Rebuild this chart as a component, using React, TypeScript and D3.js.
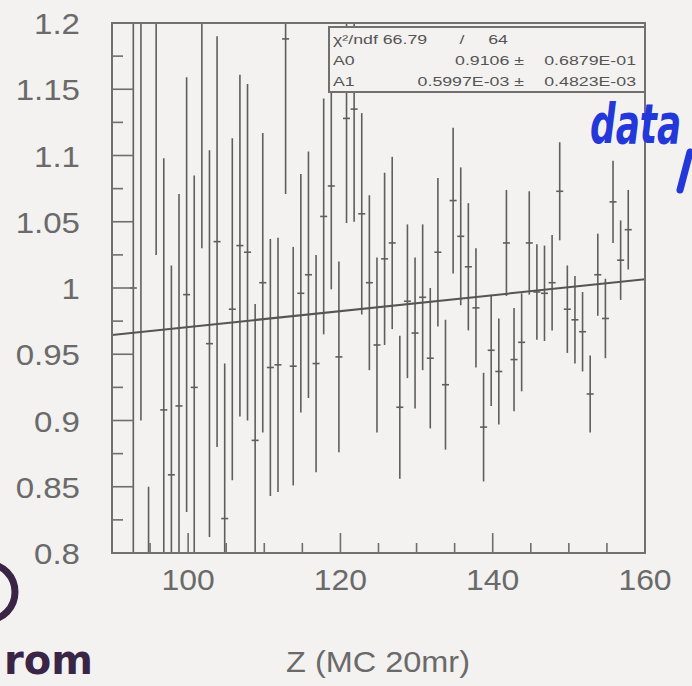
import * as d3 from "d3"

// bin centres (Z), ratio values and their errors
const zBins = [
  92.8, 93.8, 94.8, 95.8, 96.8, 97.8, 98.8, 99.8, 100.8, 101.8, 102.8, 103.8, 104.8, 105.8, 106.8, 107.8, 108.8,
  109.8, 110.8, 111.8, 112.8, 113.8, 114.8, 115.8, 116.8, 117.8, 118.8, 119.8, 120.8, 121.8, 122.8, 123.8, 124.8,
  125.8, 126.8, 127.8, 128.8, 129.8, 130.8, 131.8, 132.8, 133.8, 134.8, 135.8, 136.8, 137.8, 138.8, 139.8, 140.8,
  141.8, 142.8, 143.8, 144.8, 145.8, 146.8, 147.8, 148.8, 149.8, 150.8, 151.8, 152.8, 153.8, 154.8, 155.8, 156.8,
  157.8,
]

const ratioValues = [
  1.0, 1.24, 0.65, 1.25, 0.908, 0.859, 0.911, 0.995, 0.925, 1.21, 0.958, 1.035, 0.826, 0.984, 1.032, 1.027, 0.885,
  1.004, 0.94, 0.942, 1.188, 0.941, 0.996, 1.01, 0.943, 1.054, 1.077, 0.948, 1.128, 1.135, 1.056, 1.004, 0.957,
  1.022, 1.034, 0.91, 0.99, 0.966, 0.993, 0.947, 1.027, 0.927, 1.066, 1.039, 1.016, 0.985, 0.895, 0.953, 0.937,
  1.034, 0.946, 0.959, 1.034, 0.997, 0.996, 1.004, 1.073, 0.984, 0.976, 0.967, 0.92, 1.01, 0.977, 1.065, 1.021,
  1.044,
]

const ratioErrors = [
  0.36, 0.34, 0.2, 0.225, 0.19, 0.158, 0.16, 0.164, 0.16, 0.18, 0.146, 0.155, 0.117, 0.129, 0.129, 0.127, 0.103,
  0.113, 0.097, 0.096, 0.117, 0.09, 0.09, 0.093, 0.082, 0.089, 0.078, 0.072, 0.079, 0.085, 0.076, 0.066, 0.066,
  0.065, 0.065, 0.054, 0.058, 0.057, 0.055, 0.053, 0.056, 0.049, 0.055, 0.052, 0.048, 0.045, 0.041, 0.042, 0.04,
  0.04, 0.039, 0.037, 0.039, 0.036, 0.036, 0.036, 0.037, 0.033, 0.033, 0.03, 0.029, 0.031, 0.03, 0.031, 0.03, 0.03,
]

const xTickLabels = [100, 120, 140, 160]
const yTickLabels = [0.8, 0.85, 0.9, 0.95, 1, 1.05, 1.1, 1.15, 1.2]

// straight-line fit p0 + p1*z
const fitA0 = 0.9106
const fitA1 = 0.5997e-3
const statRows = [
  { name: "χ²/ndf", value: "66.79", sep: "/", err: "64" },
  { name: "A0", value: "0.9106 ±", sep: "", err: "0.6879E-01" },
  { name: "A1", value: "0.5997E-03 ±", sep: "", err: "0.4823E-03" },
]

const W = 692
const H = 686
const plot = { left: 112, right: 645, top: 23, bottom: 553 }
const ink = "#5e5e5e"
const paper = "#f3f2f0"
const font = "'Liberation Sans', Arial, sans-serif"
const hand = "#3b2547"

function WideText(props: {
  x: number
  y: number
  size: number
  stretch: number
  anchor?: "start" | "middle" | "end"
  fill?: string
  children: React.ReactNode
}) {
  return (
    <text
      transform={`translate(${props.x},${props.y}) scale(${props.stretch},1)`}
      textAnchor={props.anchor || "start"}
      fontSize={props.size}
      fontFamily={font}
      fill={props.fill || "#6a6a6a"}
    >
      {props.children}
    </text>
  )
}

export default function App() {
  const x = d3.scaleLinear().domain([90, 160]).range([plot.left, plot.right])
  const y = d3.scaleLinear().domain([0.8, 1.2]).range([plot.bottom, plot.top])

  const points = zBins.map((z, i) => ({ z, v: ratioValues[i], e: ratioErrors[i] }))

  const xMinor = d3.range(90, 160.01, 5)
  const yMinor = d3.range(0.8, 1.2001, 0.025)

  const fitLine = d3
    .line<number>()
    .x((z) => x(z))
    .y((z) => y(fitA0 + fitA1 * z))

  const box = { left: 329, right: plot.right, top: 27, bottom: 92 }

  return (
    <svg width={W} height={H} style={{ position: "absolute", left: 0, top: 0, background: paper }}>
      <rect width={W} height={H} fill={paper} />
      <defs>
        <clipPath id="plotClip">
          <rect x={plot.left} y={plot.top} width={plot.right - plot.left} height={plot.bottom - plot.top} />
        </clipPath>
      </defs>

      {/* error bars */}
      <g clipPath="url(#plotClip)" stroke={ink} strokeWidth={1.6}>
        {points.map((p, i) => (
          <g key={i}>
            <line x1={x(p.z)} x2={x(p.z)} y1={y(p.v + p.e)} y2={y(p.v - p.e)} />
            <line x1={x(p.z) - 3.5} x2={x(p.z) + 3.5} y1={y(p.v)} y2={y(p.v)} />
          </g>
        ))}
        <path d={fitLine([90, 160]) || ""} fill="none" stroke="#555" strokeWidth={2} />
      </g>

      {/* ticks */}
      <g stroke="#6e6e6e" strokeWidth={1.6}>
        {yMinor.map((v, i) => {
          const major = i % 2 === 0
          return <line key={"y" + i} x1={plot.left} x2={plot.left + (major ? 22 : 11)} y1={y(v)} y2={y(v)} />
        })}
        {xMinor.map((v, i) => {
          const major = v % 20 === 0
          return <line key={"x" + i} x1={x(v)} x2={x(v)} y1={plot.bottom} y2={plot.bottom - (major ? 20 : 10)} />
        })}
      </g>

      {/* frame */}
      <rect
        x={plot.left}
        y={plot.top}
        width={plot.right - plot.left}
        height={plot.bottom - plot.top}
        fill="none"
        stroke="#707070"
        strokeWidth={2}
      />

      {/* stats box */}
      <rect
        x={box.left}
        y={box.top}
        width={box.right - box.left}
        height={box.bottom - box.top}
        fill={paper}
        stroke="#707070"
        strokeWidth={2}
      />
      {statRows.map((r, i) => {
        const by = 44 + i * 21
        const t = { size: 12.5, stretch: 1.42, fill: "#555" }
        return (
          <g key={r.name}>
            <WideText x={333} y={by} {...t}>
              {r.name}
              {i === 0 ? " " + r.value : ""}
            </WideText>
            {i === 0 ? (
              <>
                <WideText x={462} y={by} anchor="middle" {...t}>
                  {r.sep}
                </WideText>
                <WideText x={508} y={by} anchor="end" {...t}>
                  {r.err}
                </WideText>
              </>
            ) : (
              <>
                <WideText x={524} y={by} anchor="end" {...t}>
                  {r.value}
                </WideText>
                <WideText x={636} y={by} anchor="end" {...t}>
                  {r.err}
                </WideText>
              </>
            )}
          </g>
        )
      })}

      {/* axis labels */}
      {yTickLabels.map((v) => (
        <WideText key={v} x={80} y={y(v) + 11} size={29} stretch={1.14} anchor="end">
          {String(v)}
        </WideText>
      ))}
      {xTickLabels.map((v) => (
        <WideText key={v} x={x(v)} y={590} size={29} stretch={1.1} anchor="middle">
          {String(v)}
        </WideText>
      ))}
      <WideText x={378} y={672} size={29} stretch={1.12} anchor="middle">
        Z (MC 20mr)
      </WideText>

      {/* handwritten notes on the scan */}
      <text
        transform="translate(590,143) scale(0.64,1)"
        fontSize={56}
        fontWeight="bold"
        fontStyle="italic"
        fontFamily="'DejaVu Sans', sans-serif"
        fill="#2437d8"
      >
        data
      </text>
      <path d="M690,152 L680,190" stroke="#2437d8" strokeWidth={7} strokeLinecap="round" fill="none" />
      <ellipse cx={-12} cy={592} rx={27} ry={28} fill="none" stroke={hand} strokeWidth={7} />
      <text x={4} y={674} fontSize={40} fontWeight="bold" fontFamily="'DejaVu Sans', sans-serif" fill={hand}>
        rom
      </text>
    </svg>
  )
}
